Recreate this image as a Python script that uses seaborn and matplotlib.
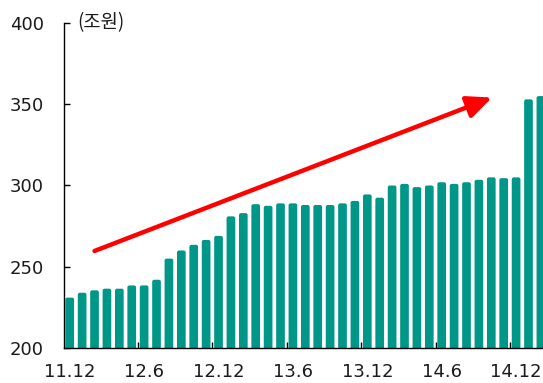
import matplotlib
matplotlib.use("Agg")
import matplotlib.pyplot as plt
import seaborn as sns
import pandas as pd
from matplotlib.patches import FancyBboxPatch
from matplotlib.ticker import FixedLocator

# Monthly balance, Dec 2011 - Feb 2015 (trillion won)
months = [
    "11.12", "12.1", "12.2", "12.3", "12.4", "12.5", "12.6", "12.7", "12.8", "12.9",
    "12.10", "12.11", "12.12", "13.1", "13.2", "13.3", "13.4", "13.5", "13.6", "13.7",
    "13.8", "13.9", "13.10", "13.11", "13.12", "14.1", "14.2", "14.3", "14.4", "14.5",
    "14.6", "14.7", "14.8", "14.9", "14.10", "14.11", "14.12", "15.1", "15.2",
]
balance = [
    231.0, 234.0, 235.5, 236.5, 236.5, 238.5, 238.5, 242.0, 255.0, 260.0,
    263.5, 266.5, 269.0, 281.0, 283.0, 288.5, 287.5, 289.0, 289.0, 288.0,
    288.0, 288.0, 289.0, 290.5, 294.5, 292.5, 300.0, 301.0, 299.0, 300.0,
    302.0, 301.0, 302.0, 303.5, 305.0, 304.5, 305.0, 353.0, 355.0,
]
label_months = ["11.12", "12.6", "12.12", "13.6", "13.12", "14.6", "14.12"]
y_ticks = [200, 250, 300, 350, 400]

sns.set_style("white")
plt.rcParams["font.family"] = ["DejaVu Sans", "Noto Sans CJK KR"]

df = pd.DataFrame({"month": months, "balance": balance})

fig = plt.figure(figsize=(5.43, 3.83), dpi=100)
ax = fig.add_axes([0.117, 0.0914, 0.883, 0.8486])

sns.barplot(data=df, x="month", y="balance", color="#009688", saturation=1,
            width=0.7, ax=ax)

ax.set_ylim(200, 400)
ax.set_xlim(-0.5, 38.17)

# give the bars slightly rounded tops
bbox = ax.get_window_extent()
px_per_x = bbox.width / (38.17 + 0.5)
px_per_y = bbox.height / 200.0
aspect = px_per_x / px_per_y
for bar in list(ax.patches):
    x0, y0 = bar.get_x(), bar.get_y()
    w, h = bar.get_width(), bar.get_height()
    fc = bar.get_facecolor()
    bar.remove()
    ax.add_patch(FancyBboxPatch((x0, y0), w, h,
                                boxstyle="round,pad=0,rounding_size=0.16",
                                mutation_aspect=aspect, facecolor=fc,
                                edgecolor="none", linewidth=0))

ax.set_xlabel("")
ax.set_ylabel("")

# y axis
ax.set_yticks(y_ticks)
ax.set_yticklabels([str(v) for v in y_ticks], fontsize=13, color="#1a1a1a")
ax.tick_params(axis="y", direction="in", length=4, width=1, color="black",
               pad=14, left=True)

# x axis: labels on category centres, tick marks between half-year groups
label_pos = [months.index(m) for m in label_months]
ax.set_xticks(label_pos)
ax.set_xticklabels(label_months, fontsize=13, color="#1a1a1a")
ax.tick_params(axis="x", which="major", length=0, pad=11)
ax.xaxis.set_minor_locator(FixedLocator([p + 5.5 for p in label_pos]))
ax.tick_params(axis="x", which="minor", direction="in", length=4, width=1,
               color="black", bottom=True)

for side in ["top", "right"]:
    ax.spines[side].set_visible(False)
for side in ["left", "bottom"]:
    ax.spines[side].set_color("black")
    ax.spines[side].set_linewidth(1.0)
    ax.spines[side].set_zorder(5)

# unit label
ax.text(0.6, 400, "(조원)", fontsize=13.5, va="center", ha="left",
        color="#1a1a1a", family=["Noto Sans CJK KR", "DejaVu Sans"])

# trend arrow
ax.annotate("", xy=(34.06, 354.1), xytext=(2.0, 259.7),
            arrowprops=dict(arrowstyle="-|>,head_length=1.0,head_width=0.45",
                            color="#FF0000", lw=3.2, mutation_scale=15,
                            shrinkA=0, shrinkB=0))

fig.savefig("out.png", dpi=100)
